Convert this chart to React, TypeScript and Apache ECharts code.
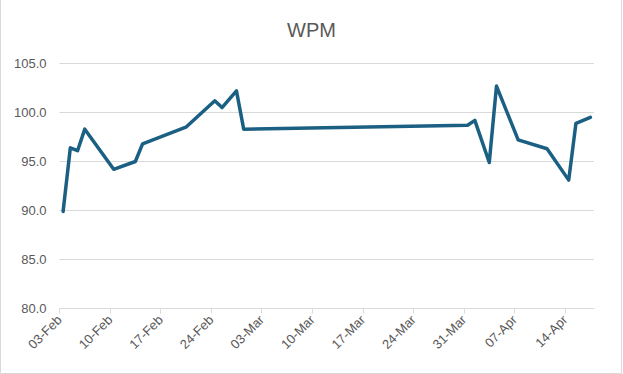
import React, { useEffect, useRef } from "react";
import * as echarts from "echarts";

const dates = [
  "2025-02-03", "2025-02-04", "2025-02-05", "2025-02-06", "2025-02-10",
  "2025-02-13", "2025-02-14", "2025-02-20", "2025-02-24", "2025-02-25",
  "2025-02-27", "2025-02-28", "2025-03-31", "2025-04-01", "2025-04-03",
  "2025-04-04", "2025-04-07", "2025-04-11", "2025-04-14", "2025-04-15",
  "2025-04-17",
];
const wpm = [
  89.9, 96.4, 96.1, 98.3, 94.2, 95.0, 96.8, 98.5, 101.2, 100.5,
  102.2, 98.3, 98.7, 99.2, 94.9, 102.7, 97.2, 96.3, 93.1, 98.9,
  99.5,
];
const yTicks = [80, 85, 90, 95, 100, 105];
const startDate = "2025-02-03";
const endDate = "2025-04-18";
const months = ["Jan", "Feb", "Mar", "Apr", "May", "Jun", "Jul", "Aug", "Sep", "Oct", "Nov", "Dec"];

const DAY = 86400000;
const toDay = (s: string) => (Date.parse(s + "T00:00:00Z") - Date.parse(startDate + "T00:00:00Z")) / DAY;

export default function App() {
  const ref = useRef<HTMLDivElement>(null);
  useEffect(() => {
    if (!ref.current) return;
    const chart = echarts.init(ref.current, null, { renderer: "svg" });
    const base = Date.parse(startDate + "T00:00:00Z");
    const fmt = (v: number) => {
      const d = new Date(base + Math.round(v) * DAY);
      const dd = String(d.getUTCDate()).padStart(2, "0");
      return dd + "-" + months[d.getUTCMonth()];
    };
    chart.setOption({
      animation: false,
      backgroundColor: "#ffffff",
      title: {
        text: "WPM",
        left: "center",
        top: 15,
        textStyle: { fontFamily: "Liberation Sans, Arial, sans-serif", fontSize: 20, fontWeight: "normal", color: "#595959" },
      },
      grid: { left: 59.5, right: 29, top: 63.5, bottom: 65.5, containLabel: false },
      xAxis: {
        type: "value",
        min: 0,
        max: toDay(endDate),
        interval: 7,
        axisLine: { show: true, lineStyle: { color: "#d9d9d9", width: 1 } },
        axisTick: { show: true, length: 5, lineStyle: { color: "#d9d9d9" } },
        splitLine: { show: false },
        axisLabel: {
          rotate: 45,
          margin: 9,
          formatter: fmt,
          color: "#595959",
          fontSize: 13,
          fontFamily: "Liberation Sans, Arial, sans-serif",
          showMaxLabel: false,
        },
      },
      yAxis: {
        type: "value",
        min: yTicks[0],
        max: yTicks[yTicks.length - 1],
        interval: 5,
        axisLine: { show: false },
        axisTick: { show: false },
        splitLine: { show: true, lineStyle: { color: "#d9d9d9", width: 1 } },
        axisLabel: {
          margin: 13,
          formatter: (v: number) => v.toFixed(1),
          color: "#595959",
          fontSize: 13,
          fontFamily: "Liberation Sans, Arial, sans-serif",
        },
      },
      series: [
        {
          type: "line",
          data: dates.map((d, i) => [toDay(d) + 0.5, wpm[i]]),
          symbol: "none",
          lineStyle: { color: "#1b6083", width: 3.5, join: "round", cap: "round" },
          itemStyle: { color: "#1b6083" },
        },
      ],
      graphic: [
        {
          type: "rect",
          shape: { x: 0.5, y: -1, width: 621, height: 374.5 },
          style: { fill: "none", stroke: "#d9d9d9", lineWidth: 1 },
          silent: true,
        },
      ],
    });
    return () => chart.dispose();
  }, []);
  return (
    <div
      ref={ref}
      style={{ position: "fixed", left: 0, top: 0, width: 623, height: 374 }}
    />
  );
}
